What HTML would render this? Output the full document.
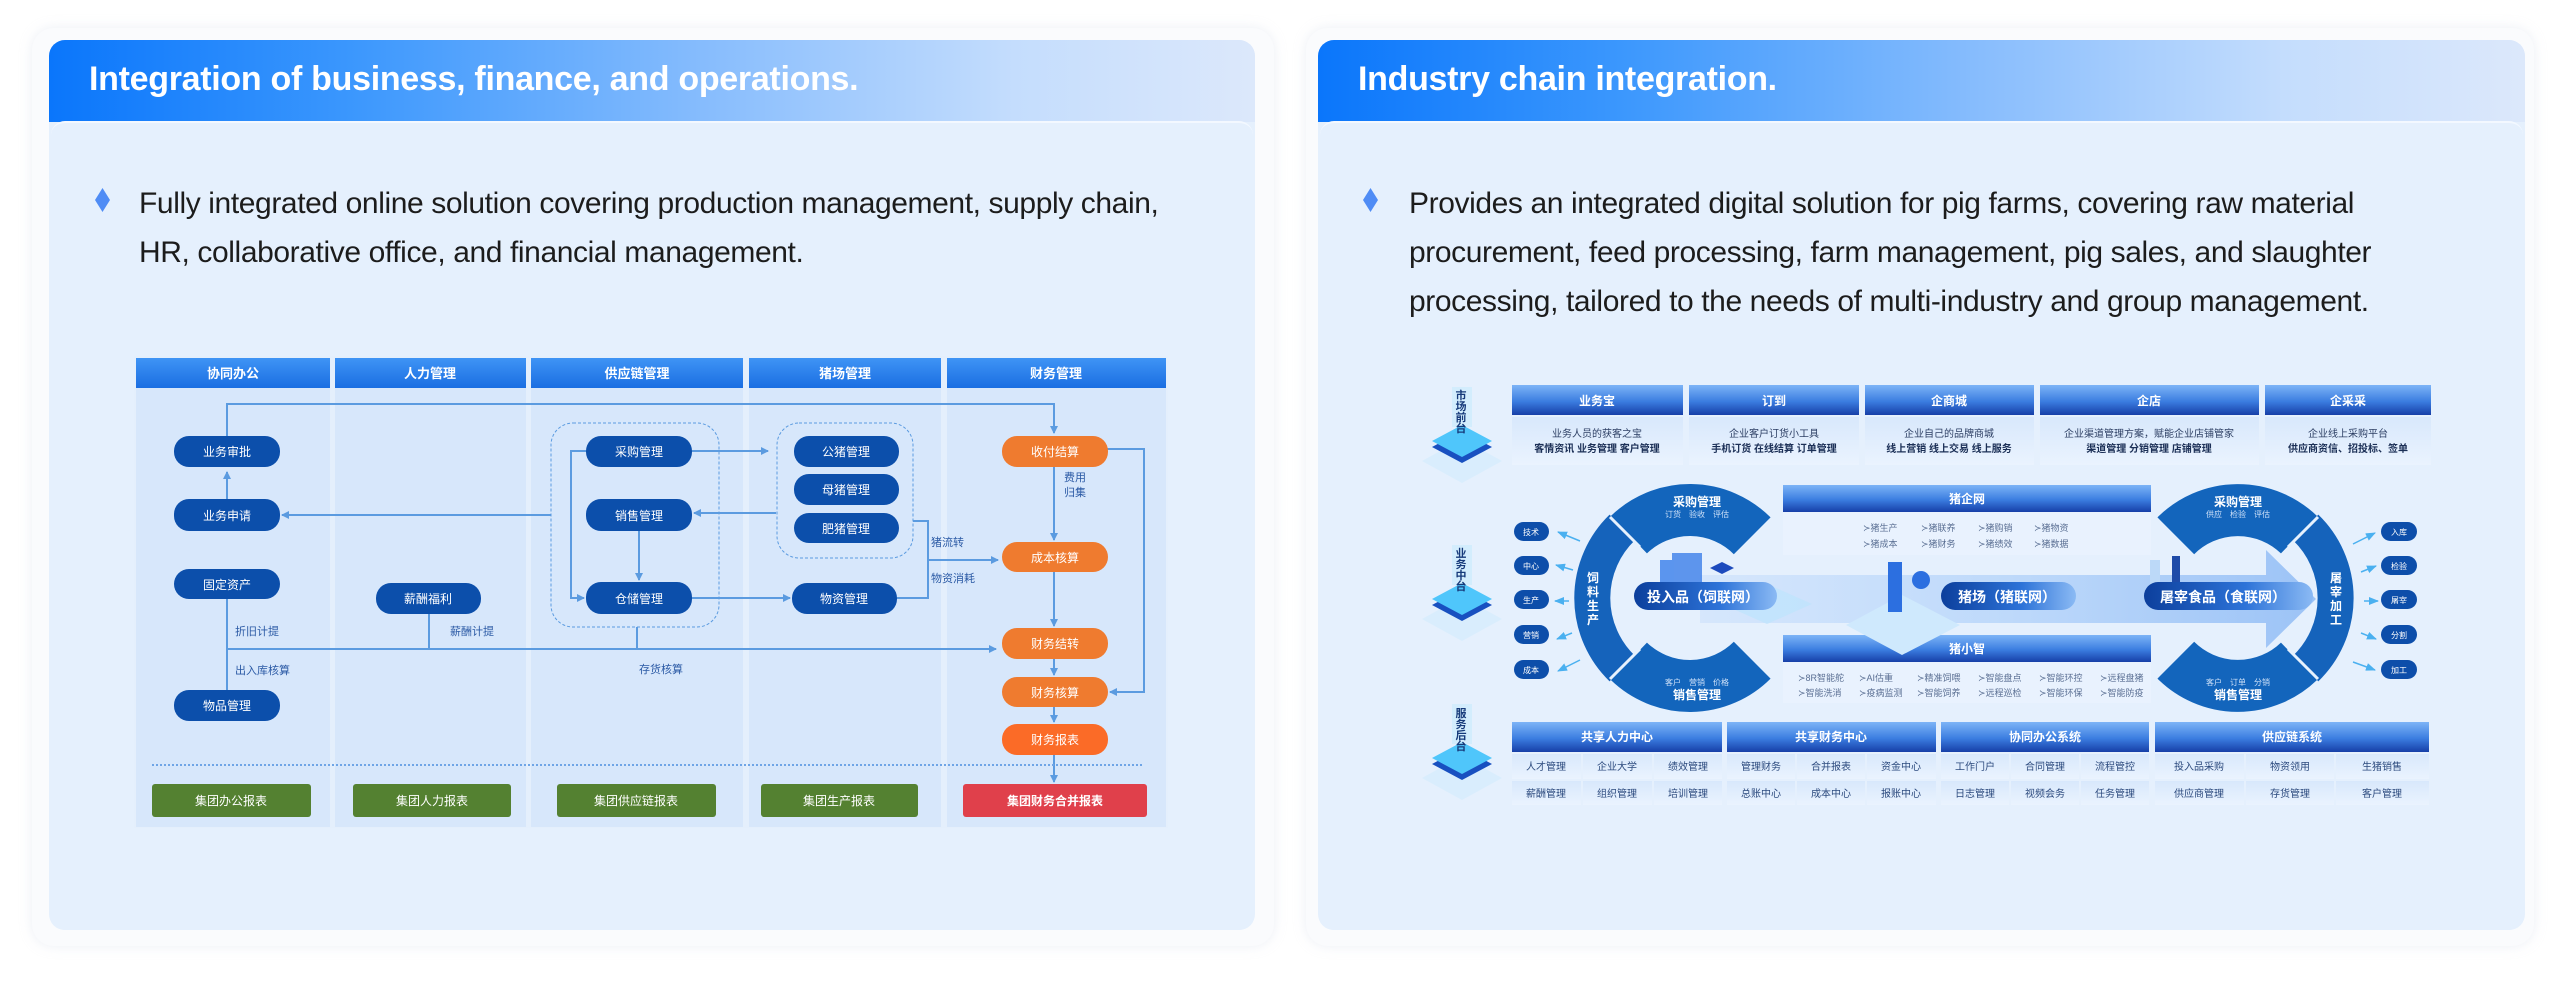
<!DOCTYPE html>
<html><head><meta charset="utf-8"><style>
*{margin:0;padding:0;box-sizing:border-box}
body{width:2572px;height:988px;background:#fff;position:relative;overflow:hidden;font-family:"Liberation Sans","Noto Sans CJK SC",sans-serif}
.shadow{position:absolute;top:28px;height:918px;border-radius:22px;background:#fafbfd;box-shadow:0 0 12px rgba(200,210,225,.35)}
.card{position:absolute;top:40px;height:890px;border-radius:16px;background:#e5f0fd;overflow:hidden}
.hd{position:absolute;left:0;top:0;right:0;height:82px;background:linear-gradient(90deg,#0a76fb 0%,#3b97fd 25%,#88bdfd 55%,#c4ddfd 80%,#dce8fb 100%)}
.hd span{position:absolute;left:40px;top:20px;color:#fff;font-weight:bold;font-size:34px;letter-spacing:-.3px}
.bd{position:absolute;left:2px;right:2px;top:81px;bottom:0;background:#e5f0fd;border-radius:14px 14px 0 0;border-top:2px solid #f3f8ff}
.txt{position:absolute;font-size:30px;line-height:49px;color:#1c1c1c;letter-spacing:-.4px;white-space:nowrap}
.dia{position:absolute;width:15px;height:24px;background:#4f8cf5;clip-path:polygon(50% 0,100% 50%,50% 100%,0 50%)}
svg{position:absolute;left:0;top:0}
</style></head><body>
<div class="shadow" style="left:32px;width:1242px"></div>
<div class="shadow" style="left:1306px;width:1228px"></div>
<div class="card" style="left:49px;width:1206px"><div class="hd"><span>Integration of business, finance, and operations.</span></div><div class="bd"></div></div>
<div class="card" style="left:1318px;width:1207px"><div class="hd"><span>Industry chain integration.</span></div><div class="bd"></div></div>
<div class="dia" style="left:95px;top:188px"></div>
<div class="txt" style="left:139px;top:179px">Fully integrated online solution covering production management, supply chain,<br>HR, collaborative office, and financial management.</div>
<div class="dia" style="left:1363px;top:188px"></div>
<div class="txt" style="left:1409px;top:179px">Provides an integrated digital solution for pig farms, covering raw material<br>procurement, feed processing, farm management, pig sales, and slaughter<br>processing, tailored to the needs of multi-industry and group management.</div>

<svg width="2572" height="988" viewBox="0 0 2572 988" font-family="Liberation Sans, Noto Sans CJK SC, sans-serif">
<defs>
<linearGradient id="ch" x1="0" y1="0" x2="0" y2="1"><stop offset="0" stop-color="#3f94f5"/><stop offset="1" stop-color="#1a6ee2"/></linearGradient>
<linearGradient id="bh" x1="0" y1="0" x2="0" y2="1"><stop offset="0" stop-color="#7db4f7"/><stop offset=".55" stop-color="#3b7de0"/><stop offset="1" stop-color="#163fa8"/></linearGradient>
<linearGradient id="cell" x1="0" y1="0" x2="0" y2="1"><stop offset="0" stop-color="#d8e8fc"/><stop offset="1" stop-color="#eaf3fe"/></linearGradient>
<linearGradient id="band" x1="0" y1="0" x2="1" y2="0"><stop offset="0" stop-color="#d3e5fc"/><stop offset=".5" stop-color="#b7d5fa"/><stop offset="1" stop-color="#8fbbf5"/></linearGradient>
<linearGradient id="pill" x1="0" y1="0" x2="1" y2="0"><stop offset="0" stop-color="#0c3f9c"/><stop offset=".6" stop-color="#2d73d8"/><stop offset="1" stop-color="#8bbaf4"/></linearGradient>
<marker id="ar" markerWidth="8" markerHeight="8" refX="7" refY="4" orient="auto" markerUnits="userSpaceOnUse"><path d="M0,0 L8,4 L0,8 z" fill="#5b9be0"/></marker>
<marker id="ar2" markerWidth="10" markerHeight="8" refX="9" refY="4" orient="auto" markerUnits="userSpaceOnUse"><path d="M0,0 L10,4 L0,8 z" fill="#4ab0f0"/></marker>
</defs>

<!-- LEFT DIAGRAM -->
<rect x="134" y="356" width="1034" height="472" fill="#e4effc"/>
<g fill="#d7e7fb">
<rect x="136" y="388" width="194" height="439"/><rect x="335" y="388" width="191" height="439"/><rect x="531" y="388" width="212" height="439"/><rect x="749" y="388" width="192" height="439"/><rect x="947" y="388" width="219" height="439"/></g>
<g fill="url(#ch)">
<rect x="136" y="358" width="194" height="30"/><rect x="335" y="358" width="191" height="30"/><rect x="531" y="358" width="212" height="30"/><rect x="749" y="358" width="192" height="30"/><rect x="947" y="358" width="219" height="30"/></g>
<g fill="#fff" font-size="13" font-weight="bold" text-anchor="middle">
<text x="233" y="378">协同办公</text><text x="430" y="378">人力管理</text><text x="637" y="378">供应链管理</text><text x="845" y="378">猪场管理</text><text x="1056" y="378">财务管理</text></g>
<rect x="551" y="423" width="168" height="204" rx="22" fill="none" stroke="#5b9be0" stroke-dasharray="3,2"/>
<rect x="777" y="423" width="136" height="135" rx="22" fill="none" stroke="#5b9be0" stroke-dasharray="3,2"/>
<g stroke="#5b9be0" stroke-width="2" fill="none">
<path d="M227 436 V404 H1054 V433" marker-end="url(#ar)"/>
<path d="M227 499 V472" marker-end="url(#ar)"/>
<path d="M551 515 H282" marker-end="url(#ar)"/>
<path d="M586 451 H571 V598 H584" marker-end="url(#ar)"/>
<path d="M692 451 H768" marker-end="url(#ar)"/>
<path d="M776 513 H694" marker-end="url(#ar)"/>
<path d="M639 531 V580" marker-end="url(#ar)"/>
<path d="M692 598 H790" marker-end="url(#ar)"/>
<path d="M897 598 H928 V521 H913"/>
<path d="M928 560 H998" marker-end="url(#ar)"/>
<path d="M1054 467 V540" marker-end="url(#ar)"/>
<path d="M1054 572 V626" marker-end="url(#ar)"/>
<path d="M1054 659 V675" marker-end="url(#ar)"/>
<path d="M1054 707 V722" marker-end="url(#ar)"/>
<path d="M1054 755 V782" marker-end="url(#ar)"/>
<path d="M1107 449 H1144 V692 H1110" marker-end="url(#ar)"/>
<path d="M227 599 V690"/>
<path d="M227 649 H996" marker-end="url(#ar)"/>
<path d="M429 614 V649"/><path d="M637 627 V649"/>
</g>
<line x1="152" y1="765" x2="1144" y2="765" stroke="#6fa5e6" stroke-width="2" stroke-dasharray="2,2"/>
<g fill="#0c4fab">
<rect x="174" y="436" width="106" height="31" rx="15"/><rect x="174" y="499" width="106" height="32" rx="15"/>
<rect x="174" y="569" width="106" height="30" rx="15"/><rect x="174" y="690" width="106" height="31" rx="15"/>
<rect x="376" y="583" width="105" height="31" rx="15"/>
<rect x="586" y="436" width="106" height="31" rx="15"/><rect x="586" y="499" width="106" height="32" rx="15"/><rect x="586" y="582" width="106" height="32" rx="15"/>
<rect x="794" y="436" width="105" height="31" rx="15"/><rect x="794" y="474" width="105" height="31" rx="15"/><rect x="794" y="513" width="105" height="30" rx="15"/>
<rect x="792" y="583" width="105" height="31" rx="15"/></g>
<g fill="#ef7b2f">
<rect x="1002" y="436" width="106" height="31" rx="15"/><rect x="1002" y="542" width="106" height="30" rx="15"/><rect x="1002" y="628" width="106" height="31" rx="15"/><rect x="1002" y="677" width="106" height="30" rx="15"/></g>
<rect x="1002" y="724" width="106" height="31" rx="15" fill="#fb6b27"/>
<g fill="#548131"><rect x="152" y="784" width="159" height="33" rx="3"/><rect x="353" y="784" width="158" height="33" rx="3"/><rect x="557" y="784" width="159" height="33" rx="3"/><rect x="761" y="784" width="157" height="33" rx="3"/></g>
<rect x="963" y="784" width="184" height="33" rx="3" fill="#e0404b"/>
<g fill="#fff" font-size="12" text-anchor="middle">
<text x="227" y="456">业务审批</text><text x="227" y="520">业务申请</text><text x="227" y="589">固定资产</text><text x="227" y="710">物品管理</text>
<text x="428" y="603">薪酬福利</text>
<text x="639" y="456">采购管理</text><text x="639" y="520">销售管理</text><text x="639" y="603">仓储管理</text>
<text x="846" y="456">公猪管理</text><text x="846" y="494">母猪管理</text><text x="846" y="533">肥猪管理</text><text x="844" y="603">物资管理</text>
<text x="1055" y="456">收付结算</text><text x="1055" y="562">成本核算</text><text x="1055" y="648">财务结转</text><text x="1055" y="697">财务核算</text><text x="1055" y="744">财务报表</text>
<text x="231" y="805">集团办公报表</text><text x="432" y="805">集团人力报表</text><text x="636" y="805">集团供应链报表</text><text x="839" y="805">集团生产报表</text><text x="1055" y="805" font-weight="bold">集团财务合并报表</text></g>
<g fill="#2b5aa5" font-size="11">
<text x="235" y="635">折旧计提</text><text x="450" y="635">薪酬计提</text><text x="235" y="674">出入库核算</text><text x="639" y="673">存货核算</text>
<text x="931" y="546">猪流转</text><text x="931" y="582">物资消耗</text><text x="1064" y="481">费用</text><text x="1064" y="496">归集</text></g>

<!-- RIGHT DIAGRAM -->
<g>
<g transform="translate(1462,447)"><path d="M0,-8 L40,14 L0,36 L-40,14z" fill="#d6ecfd" opacity=".8"/><path d="M0,-16 L30,0 L0,16 L-30,0z" fill="#1850c0"/><path d="M0,-22 L30,-6 L0,10 L-30,-6z" fill="#4fc6fb"/><rect x="-10" y="-60" width="20" height="40" fill="#c6ebfd" opacity=".6"/></g>
<g transform="translate(1462,605)"><path d="M0,-8 L40,14 L0,36 L-40,14z" fill="#d6ecfd" opacity=".8"/><path d="M0,-16 L30,0 L0,16 L-30,0z" fill="#1850c0"/><path d="M0,-22 L30,-6 L0,10 L-30,-6z" fill="#4fc6fb"/><rect x="-10" y="-60" width="20" height="40" fill="#c6ebfd" opacity=".6"/></g>
<g transform="translate(1462,764)"><path d="M0,-8 L40,14 L0,36 L-40,14z" fill="#d6ecfd" opacity=".8"/><path d="M0,-16 L30,0 L0,16 L-30,0z" fill="#1850c0"/><path d="M0,-22 L30,-6 L0,10 L-30,-6z" fill="#4fc6fb"/><rect x="-10" y="-60" width="20" height="40" fill="#c6ebfd" opacity=".6"/></g>
</g>
<g fill="#163a7a" font-size="11" font-weight="bold" text-anchor="middle">
<text x="1461" y="399">市</text><text x="1461" y="410">场</text><text x="1461" y="421">前</text><text x="1461" y="432">台</text>
<text x="1461" y="557">业</text><text x="1461" y="568">务</text><text x="1461" y="579">中</text><text x="1461" y="590">台</text>
<text x="1461" y="717">服</text><text x="1461" y="728">务</text><text x="1461" y="739">后</text><text x="1461" y="750">台</text></g>
<g fill="url(#bh)"><rect x="1512" y="385" width="171" height="30"/><rect x="1689" y="385" width="170" height="30"/><rect x="1865" y="385" width="169" height="30"/><rect x="2040" y="385" width="219" height="30"/><rect x="2265" y="385" width="166" height="30"/></g>
<g fill="url(#cell)"><rect x="1512" y="417" width="171" height="48"/><rect x="1689" y="417" width="170" height="48"/><rect x="1865" y="417" width="169" height="48"/><rect x="2040" y="417" width="219" height="48"/><rect x="2265" y="417" width="166" height="48"/></g>
<g fill="#fff" font-size="12" font-weight="bold" text-anchor="middle">
<text x="1597" y="405">业务宝</text><text x="1774" y="405">订到</text><text x="1949" y="405">企商城</text><text x="2149" y="405">企店</text><text x="2348" y="405">企采采</text></g>
<g fill="#2c3e63" font-size="10" text-anchor="middle">
<text x="1597" y="437">业务人员的获客之宝</text><text x="1774" y="437">企业客户订货小工具</text><text x="1949" y="437">企业自己的品牌商城</text><text x="2149" y="437">企业渠道管理方案，赋能企业店铺管家</text><text x="2348" y="437">企业线上采购平台</text></g>
<g fill="#1b2f56" font-size="10" font-weight="bold" text-anchor="middle">
<text x="1597" y="452">客情资讯 业务管理 客户管理</text><text x="1774" y="452">手机订货 在线结算 订单管理</text><text x="1949" y="452">线上营销 线上交易 线上服务</text><text x="2149" y="452">渠道管理 分销管理 店铺管理</text><text x="2348" y="452">供应商资信、招投标、签单</text></g>
<path d="M1700 575 H2266 V550 L2316 599 L2266 648 V623 H1700 Z" fill="url(#band)" opacity=".85"/>
<rect x="1783" y="485" width="368" height="27" fill="url(#bh)"/>
<rect x="1783" y="512" width="368" height="43" fill="#e9f2fe"/>
<rect x="1783" y="635" width="368" height="27" fill="url(#bh)"/>
<rect x="1783" y="662" width="368" height="41" fill="#e9f2fe"/>
<g fill="#fff" font-size="12" font-weight="bold" text-anchor="middle"><text x="1967" y="503">猪企网</text><text x="1967" y="653">猪小智</text></g>
<g fill="#5a6f93" font-size="9">
<text x="1863" y="531">≻猪生产</text><text x="1921" y="531">≻猪联养</text><text x="1978" y="531">≻猪购销</text><text x="2034" y="531">≻猪物资</text>
<text x="1863" y="547">≻猪成本</text><text x="1921" y="547">≻猪财务</text><text x="1978" y="547">≻猪绩效</text><text x="2034" y="547">≻猪数据</text>
<text x="1798" y="681">≻8R智能舵</text><text x="1859" y="681">≻AI估重</text><text x="1917" y="681">≻精准饲喂</text><text x="1978" y="681">≻智能盘点</text><text x="2039" y="681">≻智能环控</text><text x="2100" y="681">≻远程盘猪</text>
<text x="1798" y="696">≻智能洗消</text><text x="1859" y="696">≻疫病监测</text><text x="1917" y="696">≻智能饲养</text><text x="1978" y="696">≻远程巡检</text><text x="2039" y="696">≻智能环保</text><text x="2100" y="696">≻智能防疫</text></g>
<path d="M1767 584 L1812 604 L1767 624 L1722 604z" fill="#bfe4fd" opacity=".8"/>
<rect x="1672" y="553" width="30" height="30" fill="#3b7ee8" opacity=".8"/><rect x="1660" y="560" width="14" height="24" fill="#5b95ee"/><path d="M1710 568 L1722 562 L1734 568 L1722 574z" fill="#1d4bbd"/>
<path d="M1902 595 L1960 625 L1902 655 L1846 625z" fill="#cfe9fd"/><rect x="1888" y="562" width="14" height="50" fill="#2c6fe0"/><circle cx="1921" cy="580" r="9" fill="#2c6fe0"/>
<rect x="2150" y="560" width="10" height="35" fill="#bcd9f8"/><rect x="2172" y="556" width="8" height="40" fill="#1e4ba8"/>
<g fill="none">
<path d="M1622.1 527.6 A98 98 0 0 0 1622.1 668.4" stroke="#1563bb" stroke-width="36"/>
<path d="M1628.9 534.7 A88 88 0 0 1 1752.2 535.8" stroke="#1365bc" stroke-width="52"/>
<path d="M1628.9 661.3 A88 88 0 0 0 1752.2 660.2" stroke="#1365bc" stroke-width="52"/>
<path d="M2305.8 527.6 A98 98 0 0 1 2305.8 668.4" stroke="#1563bb" stroke-width="36"/>
<path d="M2299 534.7 A88 88 0 0 0 2175.8 535.8" stroke="#1365bc" stroke-width="52"/>
<path d="M2299 661.3 A88 88 0 0 1 2175.8 660.2" stroke="#1365bc" stroke-width="52"/>
</g>
<g stroke="#e6f1fd" stroke-width="3"><line x1="1610" y1="517" x2="1640" y2="547"/><line x1="1610" y1="679" x2="1640" y2="649"/><line x1="2318" y1="517" x2="2288" y2="547"/><line x1="2318" y1="679" x2="2288" y2="649"/></g>
<g fill="#fff" text-anchor="middle">
<text x="1697" y="506" font-size="12" font-weight="bold">采购管理</text><text x="1697" y="517" font-size="8" fill="#cde0f8">订货　验收　评估</text>
<text x="1697" y="685" font-size="8" fill="#cde0f8">客户　营销　价格</text><text x="1697" y="699" font-size="12" font-weight="bold">销售管理</text>
<text x="2238" y="506" font-size="12" font-weight="bold">采购管理</text><text x="2238" y="517" font-size="8" fill="#cde0f8">供应　检验　评估</text>
<text x="2238" y="685" font-size="8" fill="#cde0f8">客户　订单　分销</text><text x="2238" y="699" font-size="12" font-weight="bold">销售管理</text>
<g font-size="12" font-weight="bold"><text x="1593" y="582">饲</text><text x="1593" y="596">料</text><text x="1593" y="610">生</text><text x="1593" y="624">产</text>
<text x="2336" y="582">屠</text><text x="2336" y="596">宰</text><text x="2336" y="610">加</text><text x="2336" y="624">工</text></g></g>
<rect x="1634" y="582" width="143" height="28" rx="14" fill="url(#pill)"/>
<rect x="1941" y="582" width="135" height="28" rx="14" fill="url(#pill)"/>
<rect x="2144" y="582" width="169" height="28" rx="14" fill="url(#pill)"/>
<g fill="#fff" font-size="14" font-weight="bold"><text x="1647" y="602">投入品（饲联网）</text><text x="1958" y="602">猪场（猪联网）</text><text x="2160" y="602">屠宰食品（食联网）</text></g>
<g fill="#0d4eaa">
<rect x="1514" y="522" width="35" height="19" rx="9.5"/><rect x="1514" y="556" width="35" height="19" rx="9.5"/><rect x="1514" y="590" width="35" height="19" rx="9.5"/><rect x="1514" y="625" width="35" height="19" rx="9.5"/><rect x="1514" y="660" width="35" height="19" rx="9.5"/>
<rect x="2381" y="522" width="36" height="19" rx="9.5"/><rect x="2381" y="556" width="36" height="19" rx="9.5"/><rect x="2381" y="590" width="36" height="19" rx="9.5"/><rect x="2381" y="625" width="36" height="19" rx="9.5"/><rect x="2381" y="660" width="36" height="19" rx="9.5"/></g>
<g fill="#fff" font-size="8" text-anchor="middle">
<text x="1531" y="535">技术</text><text x="1531" y="569">中心</text><text x="1531" y="603">生产</text><text x="1531" y="638">营销</text><text x="1531" y="673">成本</text>
<text x="2399" y="535">入库</text><text x="2399" y="569">检验</text><text x="2399" y="603">屠宰</text><text x="2399" y="638">分割</text><text x="2399" y="673">加工</text></g>
<g stroke="#4ab0f0" stroke-width="1.5">
<line x1="1580" y1="541" x2="1558" y2="532" marker-end="url(#ar2)"/><line x1="1573" y1="570" x2="1556" y2="565" marker-end="url(#ar2)"/><line x1="1569" y1="601" x2="1555" y2="601" marker-end="url(#ar2)"/><line x1="1572" y1="633" x2="1557" y2="639" marker-end="url(#ar2)"/><line x1="1580" y1="660" x2="1558" y2="671" marker-end="url(#ar2)"/>
<line x1="2353" y1="544" x2="2375" y2="533" marker-end="url(#ar2)"/><line x1="2361" y1="572" x2="2376" y2="566" marker-end="url(#ar2)"/><line x1="2364" y1="601" x2="2378" y2="601" marker-end="url(#ar2)"/><line x1="2361" y1="633" x2="2376" y2="639" marker-end="url(#ar2)"/><line x1="2353" y1="662" x2="2375" y2="670" marker-end="url(#ar2)"/></g>
<g fill="url(#bh)"><rect x="1512" y="722" width="210" height="30"/><rect x="1727" y="722" width="209" height="30"/><rect x="1941" y="722" width="208" height="30"/><rect x="2155" y="722" width="274" height="30"/></g>
<g fill="url(#cell)">
<rect x="1512" y="754" width="69" height="25"/><rect x="1583" y="754" width="69" height="25"/><rect x="1654" y="754" width="68" height="25"/>
<rect x="1727" y="754" width="68" height="25"/><rect x="1797" y="754" width="68" height="25"/><rect x="1867" y="754" width="69" height="25"/>
<rect x="1941" y="754" width="68" height="25"/><rect x="2011" y="754" width="68" height="25"/><rect x="2081" y="754" width="68" height="25"/>
<rect x="2155" y="754" width="89" height="25"/><rect x="2246" y="754" width="88" height="25"/><rect x="2336" y="754" width="93" height="25"/>
<rect x="1512" y="781" width="69" height="24"/><rect x="1583" y="781" width="69" height="24"/><rect x="1654" y="781" width="68" height="24"/>
<rect x="1727" y="781" width="68" height="24"/><rect x="1797" y="781" width="68" height="24"/><rect x="1867" y="781" width="69" height="24"/>
<rect x="1941" y="781" width="68" height="24"/><rect x="2011" y="781" width="68" height="24"/><rect x="2081" y="781" width="68" height="24"/>
<rect x="2155" y="781" width="89" height="24"/><rect x="2246" y="781" width="88" height="24"/><rect x="2336" y="781" width="93" height="24"/></g>
<g fill="#fff" font-size="12" font-weight="bold" text-anchor="middle">
<text x="1617" y="741">共享人力中心</text><text x="1831" y="741">共享财务中心</text><text x="2045" y="741">协同办公系统</text><text x="2292" y="741">供应链系统</text></g>
<g fill="#2c4a7e" font-size="10" text-anchor="middle">
<text x="1546" y="770">人才管理</text><text x="1617" y="770">企业大学</text><text x="1688" y="770">绩效管理</text><text x="1761" y="770">管理财务</text><text x="1831" y="770">合并报表</text><text x="1901" y="770">资金中心</text><text x="1975" y="770">工作门户</text><text x="2045" y="770">合同管理</text><text x="2115" y="770">流程管控</text><text x="2199" y="770">投入品采购</text><text x="2290" y="770">物资领用</text><text x="2382" y="770">生猪销售</text>
<text x="1546" y="797">薪酬管理</text><text x="1617" y="797">组织管理</text><text x="1688" y="797">培训管理</text><text x="1761" y="797">总账中心</text><text x="1831" y="797">成本中心</text><text x="1901" y="797">报账中心</text><text x="1975" y="797">日志管理</text><text x="2045" y="797">视频会务</text><text x="2115" y="797">任务管理</text><text x="2199" y="797">供应商管理</text><text x="2290" y="797">存货管理</text><text x="2382" y="797">客户管理</text></g>
</svg>
</body></html>
